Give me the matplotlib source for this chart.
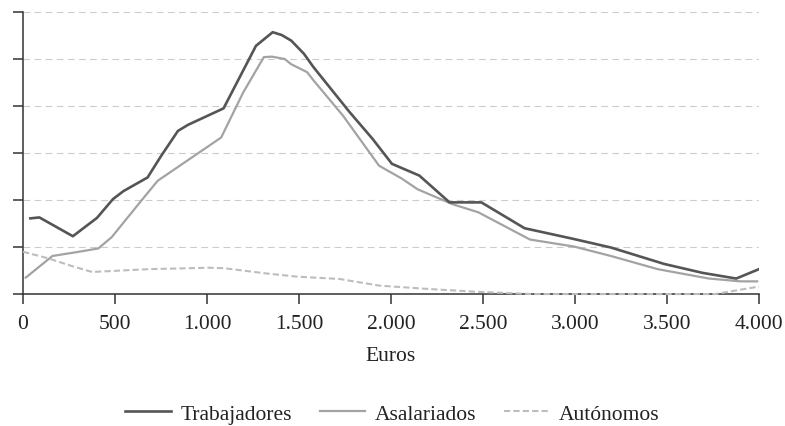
import matplotlib.pyplot as plt

# valores (euros, eje y sin etiquetas: 0-6)
x_trab = [40, 89, 271, 402, 489, 546, 677, 751, 842, 897, 1090, 1266, 1357, 1406,
          1458, 1527, 1580, 1775, 1900, 2005, 2154, 2318, 2491, 2726, 2995, 3195,
          3485, 3694, 3876, 4000]
y_trab = [1.61, 1.63, 1.23, 1.62, 2.02, 2.19, 2.48, 2.94, 3.47, 3.60, 3.95, 5.28, 5.57,
          5.51, 5.39, 5.11, 4.82, 3.87, 3.30, 2.77, 2.52, 1.95, 1.95, 1.40, 1.17, 0.99,
          0.64, 0.45, 0.33, 0.53]

x_asal = [15, 160, 289, 409, 482, 650, 732, 1077, 1197, 1309, 1353, 1422, 1457, 1544,
          1580, 1740, 1935, 2057, 2144, 2335, 2474, 2755, 2995, 3195, 3449, 3728, 3901,
          3990]
y_asal = [0.35, 0.81, 0.89, 0.97, 1.21, 2.02, 2.41, 3.33, 4.29, 5.04, 5.05, 5.00, 4.89,
          4.72, 4.54, 3.79, 2.73, 2.46, 2.23, 1.91, 1.74, 1.16, 1.01, 0.81, 0.53, 0.33,
          0.27, 0.27]

x_auto = [0, 137, 262, 375, 687, 1007, 1094, 1318, 1491, 1722, 1935, 2196, 2457, 2770,
          3000, 3500, 3761, 4000]
y_auto = [0.90, 0.76, 0.60, 0.47, 0.53, 0.56, 0.55, 0.44, 0.37, 0.32, 0.18, 0.11, 0.05,
          0.0, 0.0, 0.0, 0.0, 0.16]

xticks = [0, 500, 1000, 1500, 2000, 2500, 3000, 3500, 4000]
xlabels = ["0", "500", "1.000", "1.500", "2.000", "2.500", "3.000", "3.500", "4.000"]

plt.rcParams['font.family'] = ['Liberation Serif', 'DejaVu Serif']
txt = '#222222'
fs = 15.5

fig = plt.figure(figsize=(7.85, 4.27), dpi=100)
ax = fig.add_axes([0.0293, 0.309, 0.9376, 0.6606])

for yv in range(1, 7):
    ax.axhline(yv, color='#cccccc', lw=0.8, ls=(0, (6, 4)), zorder=1)

ax.plot(x_trab, y_trab, color='#555555', lw=1.9, label='Trabajadores', zorder=4)
ax.plot(x_asal, y_asal, color='#a3a3a3', lw=1.6, label='Asalariados', zorder=3)
ax.plot(x_auto, y_auto, color='#bdbdbd', lw=1.5, ls=(0, (3, 1.5)), label='Autónomos',
        zorder=3, clip_on=False)

ax.set_xlim(0, 4000)
ax.set_ylim(0, 6)
ax.set_xticks(xticks)
ax.set_xticklabels(xlabels)
ax.set_yticks(range(0, 7))
ax.set_yticklabels([])
ax.tick_params(axis='both', direction='out', length=7, width=1.1, color='#333333',
               labelsize=fs, labelcolor=txt)
ax.tick_params(axis='x', pad=7.5)

for s in ['top', 'right']:
    ax.spines[s].set_visible(False)
for s in ['left', 'bottom']:
    ax.spines[s].set_linewidth(1.1)
    ax.spines[s].set_color('#333333')

ax.set_xlabel('Euros', fontsize=fs, color=txt, labelpad=9)

fig.legend(loc='lower center', bbox_to_anchor=(0.5, -0.04), ncol=3, frameon=False,
           fontsize=fs, handlelength=2.1, columnspacing=1.3, handletextpad=0.45,
           labelcolor=txt)

fig.savefig('out.png', dpi=100)
